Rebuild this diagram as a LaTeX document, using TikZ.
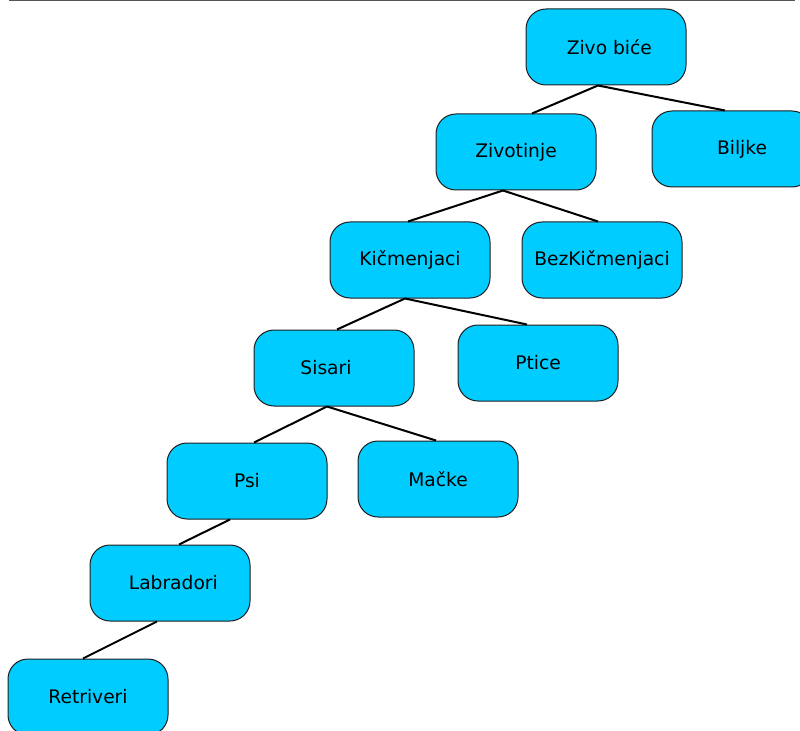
\documentclass[tikz,border=0pt]{standalone}
\usepackage{fontspec}
\setmainfont{DejaVu Sans}
\usetikzlibrary{calc}
\definecolor{boxfill}{RGB}{0,204,255}
\definecolor{boxline}{RGB}{30,30,30}
\tikzset{
  tbox/.style={draw=boxline, line width=0.75pt, fill=boxfill, rounded corners=15pt,
    minimum width=120pt, minimum height=57pt, inner sep=0pt, font=\fontsize{14}{16}\selectfont},
  link/.style={draw=black, line width=1.5pt}
}
\begin{document}
\begin{tikzpicture}[x=0.75pt,y=-0.75pt]
\useasboundingbox (0,0) rectangle (800,731);
\begin{scope}
\clip (0,0) rectangle (800,731);
\draw[line width=1.2pt, draw={rgb,255:red,85;green,85;blue,85}] (9,0.5) -- (795,0.5);
\node[tbox] (zivo) at (606,47) {\hspace*{5pt}Zivo biće};
\node[tbox] (biljke) at (732,149) {\hspace*{15pt}Biljke};
\node[tbox] (zivotinje) at (516,152) {Zivotinje};
\node[tbox] (kic) at (410,260) {Kičmenjaci};
\node[tbox] (bezkic) at (602,260) {BezKičmenjaci};
\node[tbox] (sisari) at (334,368) {Sisari\hspace*{12pt}};
\node[tbox] (ptice) at (538,363) {Ptice};
\node[tbox] (psi) at (247,481) {Psi};
\node[tbox] (macke) at (438,479) {Mačke};
\node[tbox] (labradori) at (170,583) {\hspace*{5pt}Labradori};
\node[tbox] (retriveri) at (88,697) {Retriveri};

\draw[link] ($(zivo.south)+(-8,0)$) -- ($(zivotinje.north)+(16,0)$);
\draw[link] ($(zivo.south)+(-8,0)$) -- ($(biljke.north)+(-7,0)$);
\draw[link] ($(zivotinje.south)+(-13,0)$) -- ($(kic.north)+(-2,0)$);
\draw[link] ($(zivotinje.south)+(-13,0)$) -- ($(bezkic.north)+(-4,0)$);
\draw[link] ($(kic.south)+(-5,0)$) -- ($(sisari.north)+(3,0)$);
\draw[link] ($(kic.south)+(-5,0)$) -- ($(ptice.north)+(-11,0)$);
\draw[link] ($(sisari.south)+(-7,0)$) -- ($(psi.north)+(7,0)$);
\draw[link] ($(sisari.south)+(-7,0)$) -- ($(macke.north)+(-2,0)$);
\draw[link] ($(psi.south)+(-17,0)$) -- ($(labradori.north)+(9,0)$);
\draw[link] ($(labradori.south)+(-13,0)$) -- ($(retriveri.north)+(-5,0)$);
\end{scope}
\end{tikzpicture}
\end{document}
